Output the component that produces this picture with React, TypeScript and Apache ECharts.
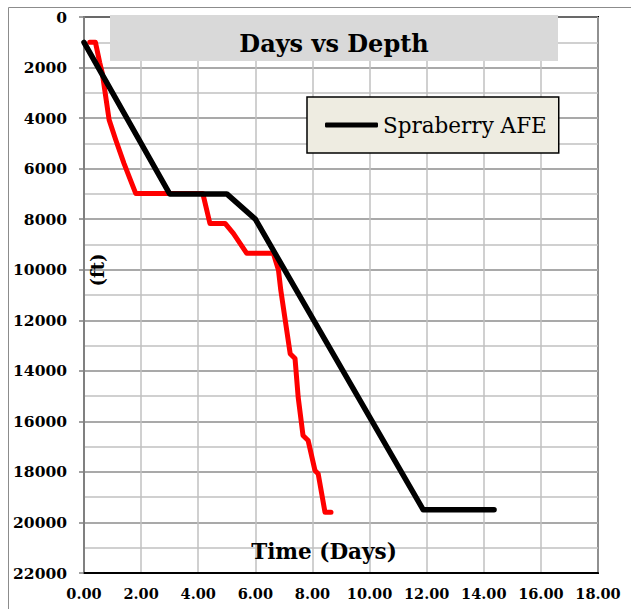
import React, { useEffect, useRef } from "react";
import * as echarts from "echarts";

const planDays = [0, 3, 5, 6, 11.88, 14.36];
const planDepth = [1000, 7000, 7000, 8000, 19500, 19500];

const actualDays = [0.2, 0.4, 0.55, 0.64, 0.88, 1.11, 1.4, 1.58, 1.81, 4.16, 4.41, 4.94, 5.23, 5.7, 6.63, 6.81, 6.89, 7.22, 7.39, 7.5, 7.67, 7.85, 8.09, 8.2, 8.44, 8.65];
const actualDepth = [1000, 1000, 1800, 2220, 4070, 4860, 5790, 6320, 6980, 6980, 8170, 8170, 8560, 9350, 9350, 10010, 10800, 13320, 13515, 15040, 16560, 16760, 17950, 18070, 19600, 19600];

const titleText = "Days vs Depth";
const xTitle = "Time (Days)";
const yTitle = "(ft)";
const planName = "Spraberry AFE";
const actualName = "Actual";

const FONT = "DejaVu Serif";

export default function App() {
  const ref = useRef<HTMLDivElement>(null);
  useEffect(() => {
    if (!ref.current) return;
    const chart = echarts.init(ref.current, null, { renderer: "svg" });
    chart.setOption({
      animation: false,
      backgroundColor: "#ffffff",
      grid: {
        left: 84,
        top: 17,
        right: 33,
        bottom: 36,
        show: true,
        borderColor: "#000000",
        borderWidth: 2,
        backgroundColor: "transparent",
      },
      xAxis: {
        type: "value",
        min: 0,
        max: 18,
        interval: 2,
        axisLine: { show: true, onZero: false, lineStyle: { color: "#000000", width: 2 } },
        axisTick: { show: false },
        axisLabel: {
          formatter: (v: number) => v.toFixed(2),
          fontFamily: FONT,
          fontWeight: "bold",
          fontSize: 14.5,
          color: "#000000",
          margin: 13,
        },
        splitLine: { show: true, lineStyle: { color: "#c0c0c0", width: 1.5 } },
      },
      yAxis: {
        type: "value",
        inverse: true,
        min: 0,
        max: 22000,
        interval: 2000,
        axisLine: { show: true, onZero: false, lineStyle: { color: "#808080", width: 2 } },
        axisTick: { show: true, length: 5, lineStyle: { color: "#808080", width: 1.5 } },
        axisLabel: {
          formatter: (v: number) => String(v),
          fontFamily: FONT,
          fontWeight: "bold",
          fontSize: 15.5,
          color: "#000000",
          margin: 17,
        },
        splitLine: { show: true, lineStyle: { color: "#8c8c8c", width: 1.5 } },
        minorTick: { show: false, splitNumber: 2 },
        minorSplitLine: { show: true, lineStyle: { color: "#c0c0c0", width: 1.5 } },
      },
      legend: {
        data: [{ name: planName, icon: "roundRect" }],
        left: 307,
        top: 97,
        orient: "horizontal",
        backgroundColor: "#eeece1",
        borderColor: "#000000",
        borderWidth: 1.5,
        padding: [17, 12, 17, 18],
        itemWidth: 53,
        itemHeight: 5,
        itemStyle: { color: "#000000", borderRadius: 2.5 },
        textStyle: { fontFamily: FONT, fontSize: 21.5, color: "#000000" },
      },
      series: [
        {
          name: actualName,
          type: "line",
          symbol: "none",
          data: actualDays.map((d, i) => [d, actualDepth[i]]),
          lineStyle: { color: "#ff0000", width: 5, cap: "round", join: "round" },
          itemStyle: { color: "#ff0000" },
          z: 3,
        },
        {
          name: planName,
          type: "line",
          symbol: "none",
          data: planDays.map((d, i) => [d, planDepth[i]]),
          lineStyle: { color: "#000000", width: 5.5, cap: "round", join: "round" },
          itemStyle: { color: "#000000" },
          z: 4,
        },
      ],
      graphic: [
        {
          type: "line",
          shape: { x1: 8.5, y1: 7.5, x2: 631, y2: 7.5 },
          style: { stroke: "#8c8c8c", lineWidth: 1 },
          z: 1,
        },
        {
          type: "line",
          shape: { x1: 8.5, y1: 7.5, x2: 8.5, y2: 609 },
          style: { stroke: "#8c8c8c", lineWidth: 1 },
          z: 1,
        },
        {
          type: "rect",
          shape: { x: 110, y: 15, width: 448, height: 46 },
          style: { fill: "#d9d9d9" },
          z: 10,
        },
        {
          type: "text",
          x: 334,
          y: 43,
          style: {
            text: titleText,
            fontFamily: FONT,
            fontWeight: "bold",
            fontSize: 24,
            fill: "#000000",
            align: "center",
            verticalAlign: "middle",
          },
          z: 11,
        },
        {
          type: "text",
          x: 324,
          y: 551,
          style: {
            text: xTitle,
            fontFamily: FONT,
            fontWeight: "bold",
            fontSize: 21.5,
            fill: "#000000",
            align: "center",
            verticalAlign: "middle",
          },
          z: 11,
        },
        {
          type: "text",
          x: 97,
          y: 270,
          rotation: Math.PI / 2,
          style: {
            text: yTitle,
            fontFamily: FONT,
            fontWeight: "bold",
            fontSize: 18,
            fill: "#000000",
            align: "center",
            verticalAlign: "middle",
          },
          z: 11,
        },
      ],
    });
    return () => chart.dispose();
  }, []);
  return (
    <div
      ref={ref}
      style={{ position: "absolute", left: 0, top: 0, width: 631, height: 609 }}
    />
  );
}
